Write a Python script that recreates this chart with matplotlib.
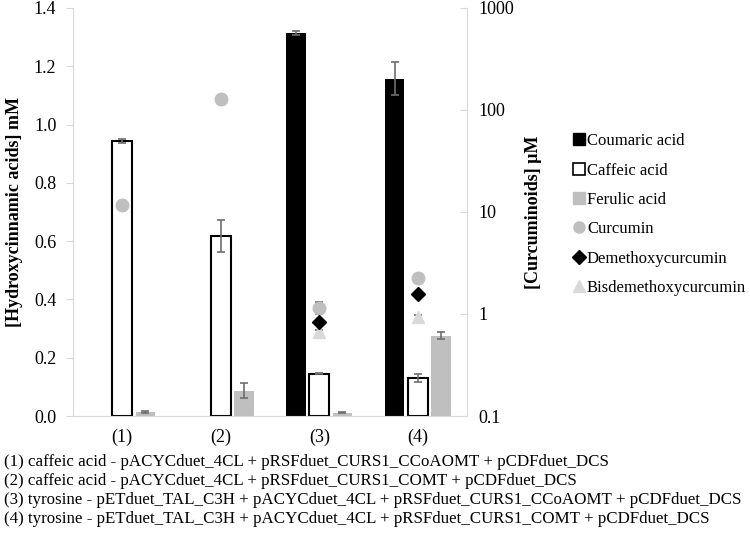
import matplotlib
matplotlib.use("Agg")
import matplotlib.pyplot as plt
import numpy as np
from matplotlib.lines import Line2D

plt.rcParams['font.family'] = ['Liberation Serif', 'DejaVu Serif']

groups = ['(1)', '(2)', '(3)', '(4)']
coumaric = [0.0, 0.0, 1.314, 1.157]
coumaric_err = [0.0, 0.0, 0.006, 0.057]
caffeic = [0.944, 0.618, 0.145, 0.130]
caffeic_err = [0.007, 0.055, 0.002, 0.015]
ferulic = [0.013, 0.087, 0.012, 0.275]
ferulic_err = [0.003, 0.025, 0.002, 0.012]

curcumin = [11.7, 128.0, 1.15, 2.25]
curcumin_err = [0.0, 0.0, 0.16, 0.0]
demethoxy = [np.nan, np.nan, 0.84, 1.57]
demethoxy_err = [0.0, 0.0, 0.04, 0.0]
bisdemethoxy = [np.nan, np.nan, 0.66, 0.93]
bisdemethoxy_err = [0.0, 0.0, 0.04, 0.05]

captions = [
    "(1) caffeic acid - pACYCduet_4CL + pRSFduet_CURS1_CCoAOMT + pCDFduet_DCS",
    "(2) caffeic acid - pACYCduet_4CL + pRSFduet_CURS1_COMT + pCDFduet_DCS",
    "(3) tyrosine - pETduet_TAL_C3H + pACYCduet_4CL + pRSFduet_CURS1_CCoAOMT + pCDFduet_DCS",
    "(4) tyrosine - pETduet_TAL_C3H + pACYCduet_4CL + pRSFduet_CURS1_COMT + pCDFduet_DCS",
]

fig = plt.figure(figsize=(7.5, 5.39), dpi=100)
ax = fig.add_axes([0.0973, 0.2282, 0.5254, 0.757])
x = np.arange(len(groups))
w = 0.2
off = 0.235
ecol = '#6e6e6e'
ekw = dict(ecolor=ecol, elinewidth=1.2, capsize=3, capthick=1.2)

ax.bar(x - off, coumaric, w, color='black', zorder=2)
ax.errorbar(x[2:] - off, coumaric[2:], yerr=coumaric_err[2:], fmt='none', zorder=3, **ekw)
ax.bar(x, caffeic, w, color='white', edgecolor='black', linewidth=1.5, zorder=2)
ax.errorbar(x, caffeic, yerr=caffeic_err, fmt='none', zorder=3, **ekw)
ax.bar(x + off, ferulic, w, color='#bfbfbf', zorder=2)
ax.errorbar(x + off, ferulic, yerr=ferulic_err, fmt='none', zorder=3, **ekw)

ax.set_xlim(-0.5, 3.5)
ax.set_ylim(0, 1.4)
ax.set_yticks(np.arange(0, 1.41, 0.2))
ax.set_yticklabels([f"{v:.1f}" for v in np.arange(0, 1.41, 0.2)])
ax.set_xticks(x)
ax.set_xticklabels(groups)
ax.tick_params(axis='x', length=0, labelsize=13, pad=9)
ax.tick_params(axis='y', labelsize=13, color='#d9d9d9', length=5, pad=7)
for s in ['top', 'right']:
    ax.spines[s].set_visible(False)
ax.spines['left'].set_color('#d9d9d9')
ax.spines['bottom'].set_color('#d9d9d9')
ax.set_ylabel('[Hydroxycinnamic acids] mM', fontsize=13, fontweight='bold', labelpad=8)

ax2 = ax.twinx()
ax2.set_yscale('log')
ax2.set_ylim(0.1, 1000)
ax2.errorbar(x, curcumin, yerr=curcumin_err, fmt='o', color='#bfbfbf', ms=9, zorder=4, **ekw)
ax2.errorbar(x, demethoxy, yerr=demethoxy_err, fmt='D', color='black', ms=7, zorder=5, **ekw)
ax2.errorbar(x, bisdemethoxy, yerr=bisdemethoxy_err, fmt='^', color='#d9d9d9', ms=9, zorder=4, **ekw)
ax2.set_yticks([0.1, 1, 10, 100, 1000])
ax2.set_yticklabels(['0.1', '1', '10', '100', '1000'])
ax2.yaxis.set_minor_locator(matplotlib.ticker.NullLocator())
ax2.tick_params(axis='y', labelsize=13, color='#d9d9d9', direction='in', length=5, pad=8)
for s in ['top', 'left', 'bottom']:
    ax2.spines[s].set_visible(False)
ax2.spines['right'].set_color('#d9d9d9')
ax2.set_ylabel('[Curcuminoids] μM', fontsize=13, fontweight='bold', labelpad=8)

handles = [
    Line2D([], [], ls='none', marker='s', color='black', ms=8),
    Line2D([], [], ls='none', marker='s', mfc='white', mec='black', ms=8, mew=1.2),
    Line2D([], [], ls='none', marker='s', color='#bfbfbf', ms=8),
    Line2D([], [], ls='none', marker='o', color='#bfbfbf', ms=8),
    Line2D([], [], ls='none', marker='D', color='black', ms=7),
    Line2D([], [], ls='none', marker='^', color='#d9d9d9', ms=9),
]
labels = ['Coumaric acid', 'Caffeic acid', 'Ferulic acid', 'Curcumin',
          'Demethoxycurcumin', 'Bisdemethoxycurcumin']
fig.legend(handles, labels, loc='upper left', bbox_to_anchor=(0.756, 0.765),
           frameon=False, fontsize=12, handlelength=0.6, handletextpad=0.2,
           labelspacing=0.8, borderaxespad=0)

for i, c in enumerate(captions):
    fig.text(0.006, 1 - (462 + 19 * i) / 539, c, fontsize=12.15, va='center', ha='left')

fig.savefig('out.png', dpi=100)
